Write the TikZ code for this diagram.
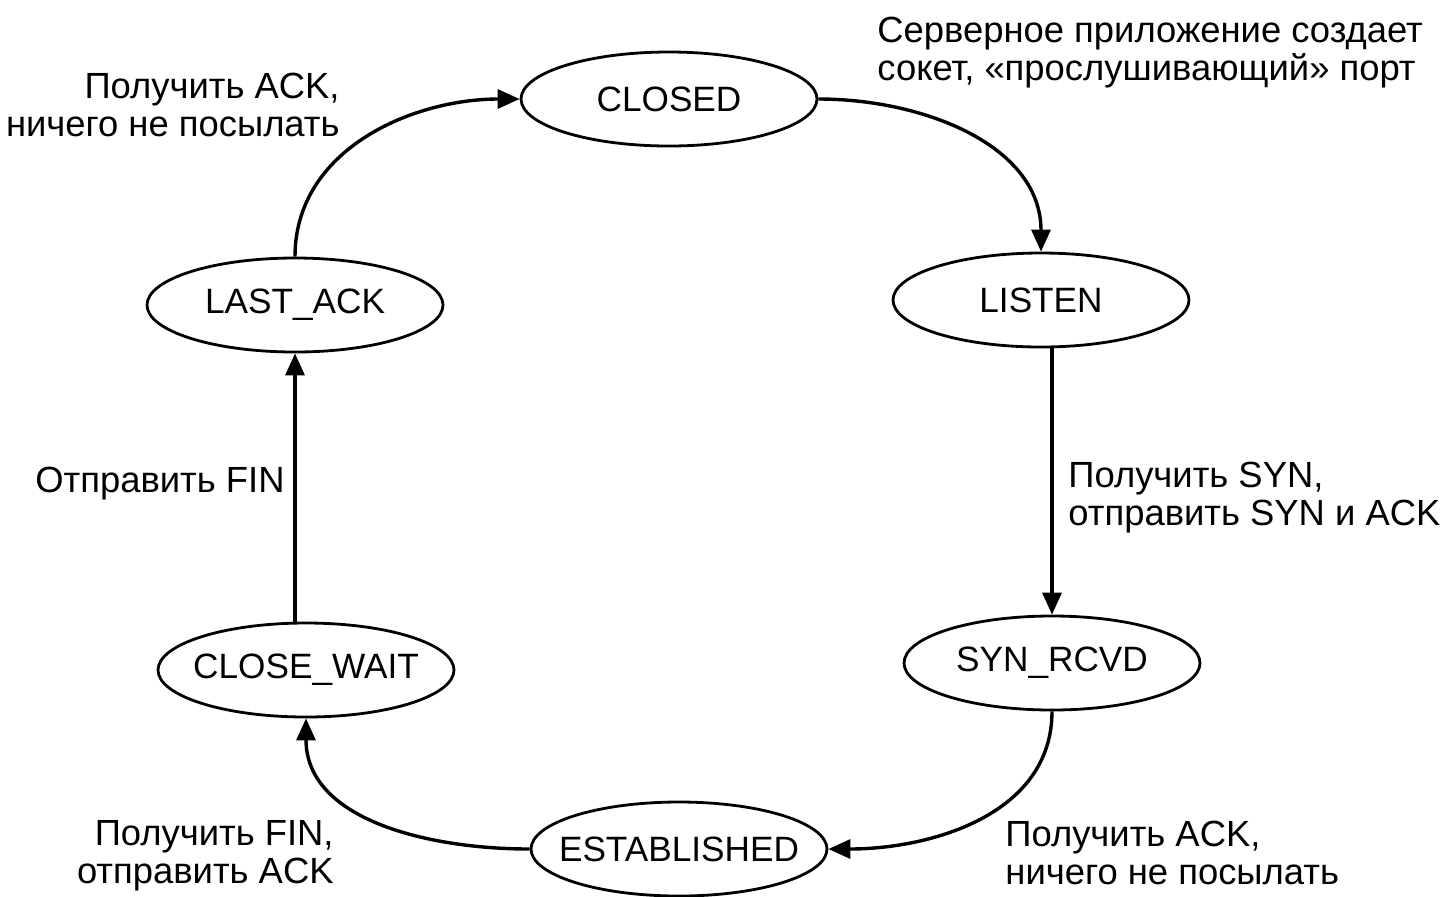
\documentclass[tikz,border=0pt]{standalone}
\usepackage{fontspec}
\setmainfont{Liberation Sans}
\usetikzlibrary{shapes.geometric,arrows.meta}

\begin{document}
\begin{tikzpicture}[x=0.5pt,y=-0.5pt,
        state/.style={ellipse,draw,line width=1.4pt,minimum width=148pt,minimum height=47pt,inner xsep=-20pt,inner ysep=0pt,font=\fontsize{17.6}{19}\selectfont},
        lbl/.style={inner sep=0pt,font=\fontsize{18.2}{19}\selectfont},
        edge/.style={line width=1.7pt,-{Triangle[length=11pt,width=9.5pt]}}]
        \useasboundingbox (0,0) rectangle (1440,896);
        \node[state] (closed) at (669,99) {CLOSED};
        \node[state] (listen) at (1041,300) {LISTEN};
        \node[state] (synrcvd) at (1052,663) {SYN\_RCVD};
        \node[state] (established) at (679,849) {ESTABLISHED};
        \node[state] (closewait) at (306,670) {CLOSE\_WAIT};
        \node[state] (lastack) at (295,305) {LAST\_ACK};
        \node[lbl,align=right,anchor=east] (rcvack1) at (340,105) {Получить ACK,\\ничего не посылать};
        \node[lbl,align=left,anchor=west] (server) at (877,53) {Серверное приложение создает\\сокет, «прослушивающий» порт};
        \node[lbl,align=left,anchor=west] (rcvsyn) at (1068,498) {Получить SYN,\\отправить SYN и ACK};
        \node[lbl,align=left,anchor=west] (rcvack2) at (1005,853) {Получить ACK,\\ничего не посылать};
        \node[lbl,align=right,anchor=east] (rcvfin) at (334,856) {Получить FIN,\\отправить ACK};
        \node[lbl,anchor=east] (sendfin) at (285,484) {Отправить FIN};
        \draw[edge] (closed.east) to[out=0,in=90] (listen.north);
        \draw[edge] (listen.south -| synrcvd.north) -- (synrcvd.north);
        \draw[edge] (synrcvd.south) to[out=-90,in=0] (established.east);
        \draw[edge] (established.west) to[out=180,in=-90] (closewait.south);
        \draw[edge] (closewait.north -| lastack.south) -- (lastack.south);
        \draw[edge] (lastack.north) to[out=90,in=180] (closed.west);
    \end{tikzpicture}
\end{document}
